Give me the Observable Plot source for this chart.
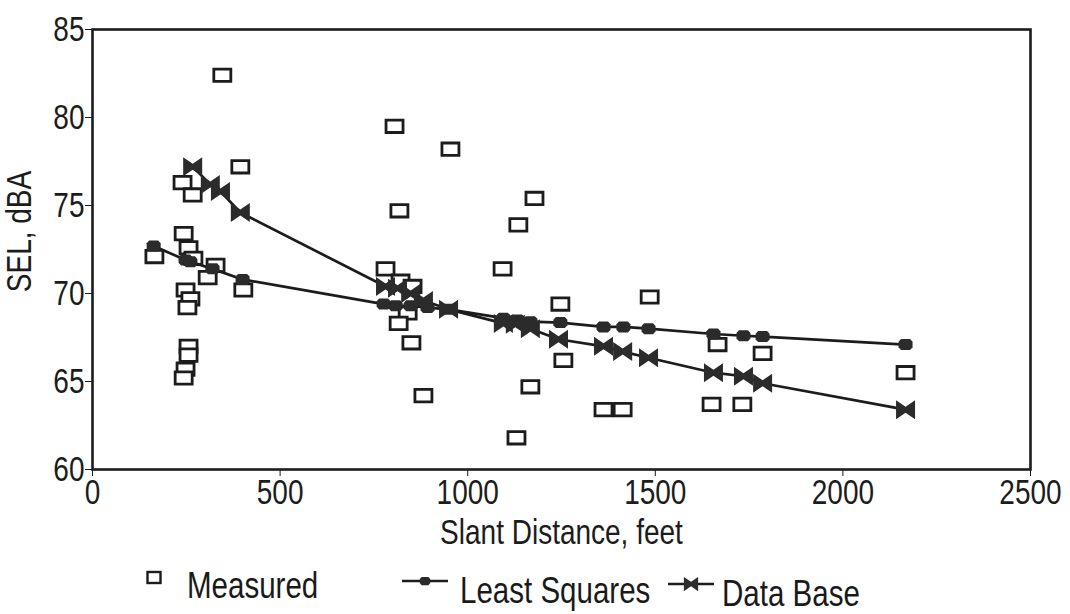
<!DOCTYPE html>
<html>
<head>
<meta charset="utf-8">
<script src="https://cdn.jsdelivr.net/npm/d3@7"></script>
<script src="https://cdn.jsdelivr.net/npm/@observablehq/plot@0.6"></script>
<style>
  html, body { margin: 0; padding: 0; background: #fff; }
  #wrap { width: 1070px; font-family: "Liberation Sans", Arial, sans-serif; color: #1a1a1a; }
  #legend { position: relative; width: 1070px; height: 54px; font-size: 36px; line-height: 36px; }
  #legend .lab { position: absolute; white-space: nowrap; transform: scaleX(0.82); transform-origin: 0 50%; }
  #legend svg { position: absolute; overflow: visible; }
</style>
</head>
<body>
<div id="wrap">
  <div id="chart"></div>
  <div id="legend"></div>
</div>
<script>
// ---- data ----
const measuredX = [346, 805, 954, 394, 240, 267, 818, 1178, 1135, 243, 256, 165, 269, 328, 307, 402, 248, 261, 253, 256, 256, 248, 243, 781, 821, 853, 840, 816, 850, 1247, 1255, 1093, 1485, 1666, 1786, 2167, 1362, 1413, 1650, 1732, 1167, 882, 1130];
const measuredY = [82.4, 79.5, 78.2, 77.2, 76.3, 75.6, 74.7, 75.4, 73.9, 73.4, 72.6, 72.1, 72.0, 71.6, 70.9, 70.2, 70.2, 69.7, 69.2, 67.0, 66.5, 65.7, 65.2, 71.4, 70.7, 70.4, 68.9, 68.3, 67.2, 69.4, 66.2, 71.4, 69.8, 67.1, 66.6, 65.5, 63.4, 63.4, 63.7, 63.7, 64.7, 64.2, 61.8];

const leastSquaresX = [163, 248, 261, 320, 400, 776, 808, 848, 893, 949, 1095, 1133, 1167, 1247, 1362, 1415, 1482, 1655, 1735, 1786, 2167];
const leastSquaresY = [72.7, 71.9, 71.8, 71.4, 70.8, 69.4, 69.3, 69.3, 69.2, 69.1, 68.6, 68.5, 68.4, 68.35, 68.1, 68.1, 68.0, 67.7, 67.6, 67.55, 67.1];

const dataBaseX = [267, 314, 341, 394, 781, 813, 848, 882, 949, 1095, 1127, 1167, 1242, 1362, 1413, 1482, 1655, 1735, 1786, 2167];
const dataBaseY = [77.2, 76.2, 75.8, 74.6, 70.4, 70.3, 70.0, 69.6, 69.1, 68.3, 68.25, 68.0, 67.4, 67.0, 66.7, 66.35, 65.5, 65.3, 64.9, 63.4];

const xTicks = [0, 500, 1000, 1500, 2000, 2500];
const yTicks = [60, 65, 70, 75, 80, 85];
const xLabel = "Slant Distance, feet";
const yLabel = "SEL, dBA";
const seriesNames = ["Measured", "Least Squares", "Data Base"];

// ---- tables ----
const measured = measuredX.map((x, i) => ({x, y: measuredY[i]}));
const ls = leastSquaresX.map((x, i) => ({x, y: leastSquaresY[i]}));
const db = dataBaseX.map((x, i) => ({x, y: dataBaseY[i]}));

// ---- custom symbols ----
const rectSym = {draw(ctx) { const w = 8.5, h = 6.2; ctx.moveTo(-w, -h); ctx.lineTo(w, -h); ctx.lineTo(w, h); ctx.lineTo(-w, h); ctx.closePath(); }};
const blobSym = {draw(ctx) {
  const p = [[-7,-2.8],[-4.5,-5.5],[4.5,-5.5],[7,-2.8],[7,2.8],[4.5,5.5],[-4.5,5.5],[-7,2.8]];
  ctx.moveTo(p[0][0], p[0][1]); for (let i = 1; i < p.length; i++) ctx.lineTo(p[i][0], p[i][1]); ctx.closePath();
}};
const bowSym = {draw(ctx) {
  const r = 9.5;
  ctx.moveTo(-r, -r); ctx.lineTo(0, -3); ctx.lineTo(r, -r); ctx.lineTo(r, r); ctx.lineTo(0, 3); ctx.lineTo(-r, r); ctx.closePath();
}};

const ink = "#1c1c1c";
const fontFam = '"Liberation Sans", Arial, sans-serif';

const chart = Plot.plot({
  width: 1070,
  height: 560,
  marginLeft: 92,
  marginRight: 40,
  marginTop: 29,
  marginBottom: 91,
  style: {fontFamily: fontFam, fontSize: "34px", color: ink, background: "#fff"},
  x: {domain: [0, 2500]},
  y: {domain: [60, 85]},
  marks: [
    Plot.axisX({ticks: xTicks, tickFormat: d3.format("d"), tickSize: 7, tickPadding: 3, label: xLabel, labelAnchor: "center", labelArrow: "none", labelOffset: 74, fontSize: 35, stroke: ink}),
    Plot.axisY({ticks: yTicks, tickFormat: d3.format("d"), tickSize: 7, tickPadding: 1, label: yLabel, labelAnchor: "center", labelArrow: "none", labelOffset: 86, fontSize: 35, stroke: ink}),
    Plot.dot(measured, {x: "x", y: "y", symbol: rectSym, r: 6, fill: "#fff", stroke: ink, strokeWidth: 2.8}),
    Plot.line(ls, {x: "x", y: "y", stroke: ink, strokeWidth: 2.7}),
    Plot.line(db, {x: "x", y: "y", stroke: ink, strokeWidth: 2.7}),
    Plot.dot(ls, {x: "x", y: "y", symbol: blobSym, r: 6, fill: "#2b2b2b", stroke: "none"}),
    Plot.dot(db, {x: "x", y: "y", symbol: bowSym, r: 6, fill: "#2b2b2b", stroke: "none"}),
    Plot.frame({stroke: ink, strokeWidth: 2.6})
  ]
});
// condense axis texts horizontally (the reference uses a condensed face)
chart.querySelectorAll("text").forEach(t => {
  const tr = t.getAttribute("transform") || "";
  t.setAttribute("transform", (tr + " scale(0.8,1)").trim());
});
// the reference's y-axis title sits a little above the frame's middle
const yl = chart.querySelector('[aria-label="y-axis label"] text');
if (yl) yl.setAttribute("transform", "translate(0,-18) " + yl.getAttribute("transform"));
document.getElementById("chart").appendChild(chart);

// ---- legend (HTML below the SVG) ----
const legend = document.getElementById("legend");
const NS = "http://www.w3.org/2000/svg";
function icon(left, top, kind) {
  const s = document.createElementNS(NS, "svg");
  s.setAttribute("width", 48); s.setAttribute("height", 22);
  s.style.left = left + "px"; s.style.top = top + "px";
  const g = document.createElementNS(NS, "g");
  if (kind === 0) {
    const r = document.createElementNS(NS, "rect");
    r.setAttribute("x", 1.5); r.setAttribute("y", 4); r.setAttribute("width", 13); r.setAttribute("height", 11);
    r.setAttribute("fill", "#fff"); r.setAttribute("stroke", ink); r.setAttribute("stroke-width", 2.4);
    g.appendChild(r);
  } else {
    const l = document.createElementNS(NS, "line");
    l.setAttribute("x1", 0); l.setAttribute("x2", 46); l.setAttribute("y1", 11); l.setAttribute("y2", 11);
    l.setAttribute("stroke", ink); l.setAttribute("stroke-width", 2.4);
    g.appendChild(l);
    const p = document.createElementNS(NS, "path");
    const path = d3.path();
    (kind === 1 ? blobSym : bowSym).draw(path);
    p.setAttribute("d", path.toString());
    p.setAttribute("transform", "translate(23,11) scale(0.75)");
    p.setAttribute("fill", "#2b2b2b");
    g.appendChild(p);
  }
  s.appendChild(g);
  legend.appendChild(s);
}
function label(left, top, text) {
  const d = document.createElement("div");
  d.className = "lab"; d.textContent = text;
  d.style.left = left + "px"; d.style.top = top + "px";
  legend.appendChild(d);
}
icon(146, 8, 0); label(187, 8, seriesNames[0]);
icon(402, 10, 1); label(460, 13, seriesNames[1]);
icon(668, 13, 2); label(722, 16, seriesNames[2]);
</script>
</body>
</html>
